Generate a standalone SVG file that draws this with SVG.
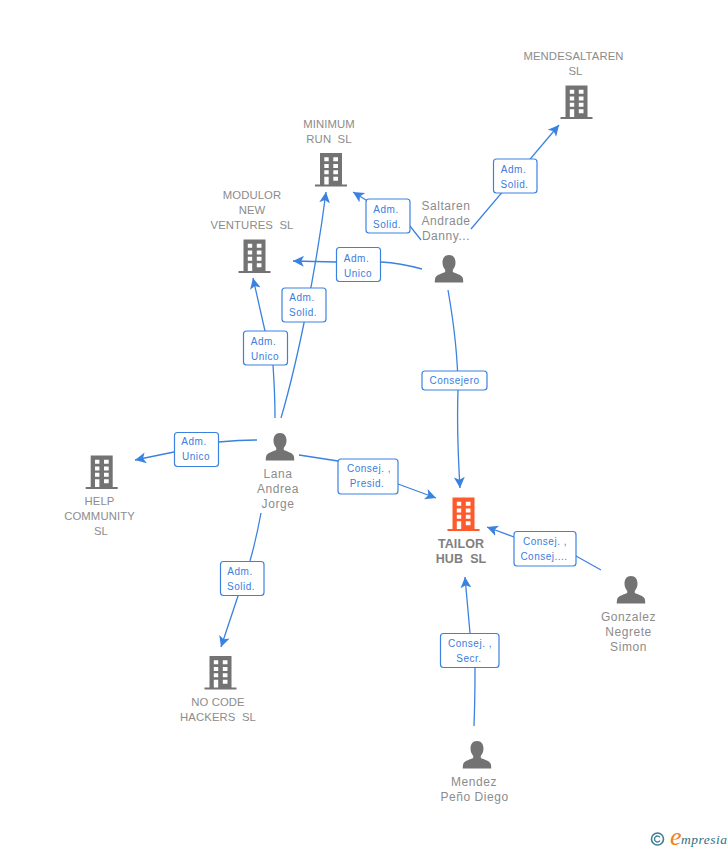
<svg xmlns="http://www.w3.org/2000/svg" width="728" height="850" viewBox="0 0 728 850">
<style>
.n{font-family:"Liberation Sans",Arial,sans-serif;font-size:11.3px;fill:#8c8c8c;text-anchor:middle;white-space:pre;letter-spacing:.1px}
.p{font-size:12px;letter-spacing:.55px}
.t{font-weight:bold;fill:#808080;font-size:12.5px}
.e{fill:none;stroke:#3b82e0;stroke-width:1.3}
.a{marker-end:url(#arr)}
.b{fill:#fff;stroke:#3b82e0;stroke-width:1.2}
.l{font-family:"Liberation Sans",Arial,sans-serif;font-size:10px;fill:#3b7ddd;text-anchor:middle;white-space:pre;letter-spacing:.5px}
</style>
<defs>
<marker id="arr" markerUnits="userSpaceOnUse" markerWidth="12" markerHeight="12" refX="10" refY="5" viewBox="0 0 11 10" orient="auto"><path d="M0 0L10 5L0 10L2.5 5z" fill="#3b82e0"/></marker>
<path id="bld" fill-rule="evenodd" d="M0 0H22V31.500H27V33.500H-5V31.500H0ZM4.300 4.300V8.300H8.700V4.300ZM13.300 4.300V8.300H18V4.300ZM4.300 11V15H8.700V11ZM13.300 11V15H18V11ZM4.300 17.300V21.300H8.700V17.300ZM13.300 17.300V21.300H18V17.300ZM4.300 23.700V31.500H8.700V23.700ZM13.300 23.700V27.700H18V23.700Z"/>
<path id="per" d="M0 0C4.500 0 6.500 3.500 6.500 7.500C6.500 10.500 5.500 13 3.800 14.800V17C6.500 18.500 12 19.500 13.600 22.500C14.200 24 14.200 26 14.200 27.500H-14.200C-14.200 26 -14.200 24 -13.600 22.500C-12 19.500 -6.500 18.500 -3.800 17V14.800C-5.500 13 -6.500 10.500 -6.500 7.500C-6.500 3.500 -4.500 0 0 0Z" fill="#737373"/>
</defs>

<g id="connectors">
<path class="e a" d="M471 229L559 125"/>
<path class="e a" d="M421 240L410 226L366 200L353 192"/>
<path class="e a" d="M422 269Q400 263 381 262L336 262L293 261"/>
<path class="e a" d="M448 290C455 330 458 360 458 390C457 420 458 455 460 488"/>
<path class="e a" d="M281 418C298 360 316 270 326 192"/>
<path class="e a" d="M275 418C275 395 274 380 273 365L265 331L253 278"/>
<path class="e a" d="M257 440Q240 440 218 442L174 452L135 460"/>
<path class="e a" d="M299 455L338 461L398 484L436 498"/>
<path class="e a" d="M261 513Q256 540 250 561L238 596L221 647"/>
<path class="e a" d="M601 570L576 556L514 537L487 527"/>
<path class="e a" d="M474 726Q475 700 475 668L470 633L465 577"/>
</g>

<g id="edge-labels">
<g><rect class="b" x="493.500" y="159" width="43.500" height="34" rx="3"/><text class="l" x="513.500" y="173">Adm.</text><text class="l" x="514.500" y="187.500">Solid.</text></g>
<g><rect class="b" x="366" y="199" width="44" height="34" rx="3"/><text class="l" x="386" y="212.500">Adm.</text><text class="l" x="387" y="227.500">Solid.</text></g>
<g><rect class="b" x="336.500" y="247.500" width="44" height="34" rx="3"/><text class="l" x="356.500" y="261.500">Adm.</text><text class="l" x="358" y="276.500">Unico</text></g>
<g><rect class="b" x="282" y="288" width="44" height="34" rx="3"/><text class="l" x="302" y="301">Adm.</text><text class="l" x="303" y="316">Solid.</text></g>
<g><rect class="b" x="243.500" y="331" width="44" height="34" rx="3"/><text class="l" x="263.500" y="344.500">Adm.</text><text class="l" x="265" y="359.500">Unico</text></g>
<g><rect class="b" x="422" y="371" width="65" height="19" rx="3"/><text class="l" x="454.500" y="384">Consejero</text></g>
<g><rect class="b" x="174.500" y="432.500" width="44" height="34" rx="3"/><text class="l" x="194" y="445">Adm.</text><text class="l" x="196" y="460">Unico</text></g>
<g><rect class="b" x="338" y="459" width="60" height="35" rx="3"/><text class="l" x="369" y="472">Consej. ,</text><text class="l" x="367" y="487">Presid.</text></g>
<g><rect class="b" x="514" y="531.500" width="62" height="34.500" rx="3"/><text class="l" x="545" y="544.500">Consej. ,</text><text class="l" x="544" y="559.500">Consej....</text></g>
<g><rect class="b" x="220.500" y="561.500" width="43.500" height="34" rx="3"/><text class="l" x="240" y="575">Adm.</text><text class="l" x="241" y="590">Solid.</text></g>
<g><rect class="b" x="440.500" y="633.500" width="58.500" height="34" rx="3"/><text class="l" x="470" y="647">Consej. ,</text><text class="l" x="469" y="662">Secr.</text></g>
</g>

<g id="mendesaltaren"><use href="#bld" x="565.500" y="85.500" fill="#737373"/><text class="n" x="573.500" y="60">MENDESALTAREN</text><text class="n" x="575.500" y="75">SL</text></g>
<g id="minimum"><use href="#bld" x="320" y="153" fill="#737373"/><text class="n" x="329" y="128">MINIMUM</text><text class="n" x="329" y="143">RUN  SL</text></g>
<g id="modulor"><use href="#bld" x="243.500" y="239.500" fill="#737373"/><text class="n" x="252" y="199">MODULOR</text><text class="n" x="252" y="214">NEW</text><text class="n" x="252" y="229">VENTURES  SL</text></g>
<g id="help"><use href="#bld" x="90.700" y="455.500" fill="#737373"/><text class="n" x="99.500" y="505">HELP</text><text class="n" x="99.500" y="520">COMMUNITY</text><text class="n" x="101" y="535">SL</text></g>
<g id="nocode"><use href="#bld" x="209.500" y="656" fill="#737373"/><text class="n" x="218" y="706">NO CODE</text><text class="n" x="218" y="721">HACKERS  SL</text></g>
<g id="tailor"><use href="#bld" x="452.500" y="497.500" fill="#ff5a2b"/><text class="n t" x="461" y="548">TAILOR</text><text class="n t" x="461" y="563">HUB  SL</text></g>
<g id="saltaren"><use href="#per" x="449" y="255"/><text class="n p" x="446" y="210">Saltaren</text><text class="n p" x="446" y="225">Andrade</text><text class="n p" x="446" y="240">Danny...</text></g>
<g id="lana"><use href="#per" x="280" y="433"/><text class="n p" x="278" y="478">Lana</text><text class="n p" x="278" y="493">Andrea</text><text class="n p" x="278" y="508">Jorge</text></g>
<g id="gonzalez"><use href="#per" x="631" y="576"/><text class="n p" x="628.500" y="621">Gonzalez</text><text class="n p" x="628.500" y="636">Negrete</text><text class="n p" x="628.500" y="651">Simon</text></g>
<g id="mendez"><use href="#per" x="477" y="741"/><text class="n p" x="474" y="786">Mendez</text><text class="n p" x="474.500" y="801">Peño Diego</text></g>

<g id="logo">
<circle cx="657.500" cy="839" r="6" fill="none" stroke="#3f7f95" stroke-width="1.600"/>
<path d="M660 837.300A3 3 0 1 0 660 840.700" fill="none" stroke="#3f7f95" stroke-width="1.300"/>
<text x="670" y="845" font-family="Liberation Serif,serif" font-style="italic" font-size="26" fill="#f08020">e</text>
<text x="681" y="844" font-family="Liberation Serif,serif" font-style="italic" font-size="13.500" fill="#2f6f85" letter-spacing=".5">mpresia</text>
</g>
</svg>
